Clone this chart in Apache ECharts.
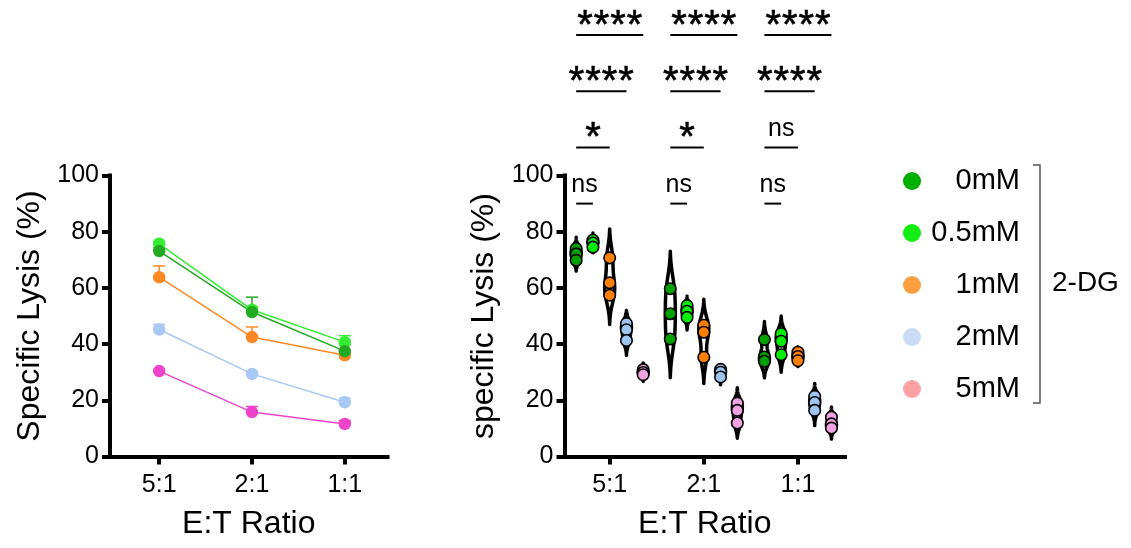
<!DOCTYPE html>
<html><head><meta charset="utf-8">
<script src="https://cdn.jsdelivr.net/npm/echarts@6/dist/echarts.min.js"></script>
<style>html,body{margin:0;padding:0;background:#fff}#c{width:1131px;height:548px}</style>
</head><body><div id="c"></div>
<script>
// ---------- data ----------
const ratios = ['5:1', '2:1', '1:1'];
const doses = ['0mM', '0.5mM', '1mM', '2mM', '5mM'];
const yTicks = [0, 20, 40, 60, 80, 100];

// left panel: mean and upper error (SEM) per E:T ratio
const mean0mM  = [73.1, 51.4, 37.5];
const mean05mM = [75.7, 52.2, 40.7];
const mean1mM  = [63.8, 42.5, 36.0];
const mean2mM  = [45.2, 29.4, 19.3];
const mean5mM  = [30.4, 15.8, 11.6];
const err0mM  = [1.2, 5.3, 2.3];
const err05mM = [0.8, 1.2, 2.3];
const err1mM  = [4.0, 3.6, 1.0];
const err2mM  = [1.8, 0.8, 1.5];
const err5mM  = [0.6, 2.0, 1.2];

// right panel: replicate values per E:T ratio
const rep0mM  = [[74.0, 72.1, 69.8], [59.7, 50.8, 41.8], [41.6, 35.4, 33.9]];
const rep05mM = [[77.0, 76.0, 74.5], [53.7, 51.7, 49.5], [43.7, 41.0, 36.2]];
const rep1mM  = [[70.7, 61.8, 57.4], [46.7, 44.2, 35.3], [37.1, 35.6, 34.1]];
const rep2mM  = [[47.3, 45.1, 41.3], [31.0, 30.0, 28.3], [21.4, 19.2, 16.4]];
const rep5mM  = [[30.9, 29.9, 29.1], [19.0, 16.4, 11.9], [14.0, 11.6, 10.1]];
// violin extents [low, high]
const vio0mM  = [[66.0, 78.0], [28.0, 73.0], [28.0, 48.0]];
const vio05mM = [[72.5, 79.5], [45.0, 57.0], [30.0, 50.0]];
const vio1mM  = [[47.0, 81.0], [26.0, 56.0], [32.0, 39.0]];
const vio2mM  = [[36.0, 52.0], [25.5, 32.5], [11.0, 26.0]];
const vio5mM  = [[26.7, 33.3], [6.5, 24.5], [6.2, 17.6]];

// significance rows: comparison of 0mM vs target dose, per ratio
const sigTargets = ['5mM', '2mM', '1mM', '0.5mM'];
const sigLevels  = [150, 130, 110, 90];
const sigLabels  = [['****', '****', '****'], ['****', '****', '****'], ['*', '*', 'ns'], ['ns', 'ns', 'ns']];

// ---------- styling ----------
const FONT = "'Liberation Sans', Arial, sans-serif";
const leftColors   = ['#22aa22', '#33ee33', '#ff8822', '#a8c8f5', '#ee44cc'];
const rightColors  = ['#00a000', '#00ee00', '#ff8000', '#9ec4f0', '#f0a2e2'];
const legendColors = ['#00b000', '#11ee11', '#ffa040', '#c8dcf6', '#ffa0a4'];
const means = [mean0mM, mean05mM, mean1mM, mean2mM, mean5mM];
const errs  = [err0mM, err05mM, err1mM, err2mM, err5mM];
const reps  = [rep0mM, rep05mM, rep1mM, rep2mM, rep5mM];
const vios  = [vio0mM, vio05mM, vio1mM, vio2mM, vio5mM];
const dOff = 0.178;
const xOf = (r, d) => r + 1 + (d - 2) * dOff;

function xAxis(gi, min, max) {
  return {
    type: 'value', gridIndex: gi, min: min, max: max,
    axisLine: { show: true, onZero: false, lineStyle: { color: '#000', width: 4, cap: 'square' } },
    axisTick: { show: true, customValues: [1, 2, 3], length: 8, lineStyle: { color: '#000', width: 4 } },
    axisLabel: { customValues: [1, 2, 3], formatter: v => ratios[Math.round(v) - 1], fontSize: 25, color: '#000', fontFamily: FONT, margin: 16 },
    splitLine: { show: false },
    name: 'E:T Ratio', nameLocation: 'middle', nameGap: 52,
    nameTextStyle: { fontSize: 32, color: '#000', fontFamily: FONT }
  };
}
function yAxis(gi, name) {
  return {
    type: 'value', gridIndex: gi, min: 0, max: 100, interval: 20,
    axisLine: { show: true, onZero: false, lineStyle: { color: '#000', width: 4, cap: 'square' } },
    axisTick: { show: true, length: 8, lineStyle: { color: '#000', width: 4 } },
    axisLabel: { fontSize: 25, color: '#000', fontFamily: FONT, margin: 11, formatter: v => yTicks.includes(v) ? String(v) : '' },
    splitLine: { show: false },
    name: name, nameLocation: 'middle', nameGap: 64, nameRotate: 90,
    nameTextStyle: { fontSize: 32, color: '#000', fontFamily: FONT }
  };
}

const series = [];
// left: error bars
[4, 3, 2, 1, 0].forEach(d => {
  series.push({
    type: 'custom', xAxisIndex: 0, yAxisIndex: 0, z: 2, silent: true,
    data: ratios.map((_, r) => [r + 1, means[d][r], means[d][r] + errs[d][r]]),
    encode: { x: 0, y: [1, 2] },
    renderItem: (params, api) => {
      const p0 = api.coord([api.value(0), api.value(1)]);
      const p1 = api.coord([api.value(0), api.value(2)]);
      return { type: 'group', children: [
        { type: 'line', shape: { x1: p0[0], y1: p0[1], x2: p1[0], y2: p1[1] }, style: { stroke: leftColors[d], lineWidth: 1.5 } },
        { type: 'line', shape: { x1: p1[0] - 6, y1: p1[1], x2: p1[0] + 6, y2: p1[1] }, style: { stroke: leftColors[d], lineWidth: 1.5 } }
      ] };
    }
  });
});
// left: lines with markers
[4, 3, 2, 1, 0].forEach(d => {
  series.push({
    type: 'line', name: 'L' + doses[d], xAxisIndex: 0, yAxisIndex: 0, z: 3,
    data: ratios.map((_, r) => [r + 1, means[d][r]]),
    symbol: 'circle', symbolSize: 12.5, showSymbol: true,
    lineStyle: { color: leftColors[d], width: 1.5 },
    itemStyle: { color: leftColors[d], borderWidth: 0 },
    emphasis: { disabled: true }, animation: false
  });
});
// right: violins
function kde(pts, h, y) { return pts.reduce((s, p) => s + Math.exp(-0.5 * ((y - p) / h) ** 2), 0); }
doses.forEach((dn, d) => {
  series.push({
    type: 'custom', xAxisIndex: 1, yAxisIndex: 1, z: 2, silent: true,
    data: ratios.map((_, r) => [xOf(r, d), vios[d][r][0], vios[d][r][1]]),
    encode: { x: 0, y: [1, 2] },
    renderItem: (params, api) => {
      const r = params.dataIndex;
      const pts = reps[d][r];
      const lo = api.value(1), hi = api.value(2), xc = api.value(0);
      const h = (hi - lo) / 8, N = 80, maxHalf = 5;
      const kLo = kde(pts, h, lo), kHi = kde(pts, h, hi);
      const ys = [], ws = [];
      let wMax = 0;
      for (let i = 0; i <= N; i++) {
        const y = lo + (hi - lo) * i / N;
        const base = kLo + (kHi - kLo) * i / N;
        const w = Math.max(0, kde(pts, h, y) - base);
        ys.push(y); ws.push(w); wMax = Math.max(wMax, w);
      }
      const left = [], right = [];
      for (let i = 0; i <= N; i++) {
        const p = api.coord([xc, ys[i]]);
        const w = wMax > 0 ? ws[i] / wMax * maxHalf : 0;
        left.push([p[0] - w, p[1]]);
        right.unshift([p[0] + w, p[1]]);
      }
      return { type: 'polygon', shape: { points: left.concat(right) }, style: { fill: '#fff', stroke: '#000', lineWidth: 3.5, lineJoin: 'round' } };
    }
  });
});
// right: replicate points
doses.forEach((dn, d) => {
  const data = [];
  ratios.forEach((_, r) => reps[d][r].forEach(v => data.push([xOf(r, d), v])));
  series.push({
    type: 'scatter', name: dn, xAxisIndex: 1, yAxisIndex: 1, z: 4,
    data: data, symbol: 'circle', symbolSize: 11.5,
    itemStyle: { color: rightColors[d], borderColor: '#000', borderWidth: 1.6, opacity: 1 },
    emphasis: { disabled: true }, animation: false
  });
});
// significance annotations
const sigData = [];
sigTargets.forEach((t, k) => ratios.forEach((_, r) => {
  sigData.push([xOf(r, 0), xOf(r, doses.indexOf(t)), sigLevels[k], k, r]);
}));
series.push({
  type: 'custom', xAxisIndex: 1, yAxisIndex: 1, z: 5, silent: true, clip: false,
  data: sigData, encode: { x: [0, 1], y: 2 },
  renderItem: (params, api) => {
    const a = api.coord([api.value(0), api.value(2)]);
    const b = api.coord([api.value(1), api.value(2)]);
    const lab = sigLabels[api.value(3)][api.value(4)];
    const cx = (a[0] + b[0]) / 2;
    const children = [{ type: 'line', shape: { x1: a[0], y1: a[1], x2: b[0], y2: b[1] }, style: { stroke: '#000', lineWidth: 2 } }];
    if (lab === 'ns') {
      children.push({ type: 'text', style: { text: 'ns', x: cx, y: a[1] - 18, fontSize: 25, fontFamily: FONT, fill: '#000', align: 'center', verticalAlign: 'middle' } });
    } else {
      const n = lab.length, pitch = 16.5;
      for (let i = 0; i < n; i++) {
        children.push({ type: 'text', style: { text: '*', x: cx + (i - (n - 1) / 2) * pitch, y: a[1] - 8, fontSize: 40, fontFamily: FONT, fill: '#000', align: 'center', verticalAlign: 'middle', stroke: '#000', lineWidth: 0.6 } });
      }
    }
    return { type: 'group', children: children };
  }
});

const option = {
  backgroundColor: '#fff',
  animation: false,
  grid: [
    { left: 110, top: 175.5, width: 277.5, height: 281 },
    { left: 564.5, top: 175.5, width: 280.5, height: 281 }
  ],
  xAxis: [xAxis(0, 0.47, 3.46), xAxis(1, 0.52, 3.5)],
  yAxis: [yAxis(0, 'Specific Lysis (%)'), yAxis(1, 'specific Lysis (%)')],
  legend: {
    orient: 'vertical', left: 898, top: 161,
    itemWidth: 18, itemHeight: 18, itemGap: 22, icon: 'circle',
    selectedMode: false,
    data: doses.map((n, d) => ({ name: n, itemStyle: { color: legendColors[d], borderWidth: 0 } })),
    formatter: n => '{a|' + n + '}',
    textStyle: { fontSize: 29, lineHeight: 30, fontFamily: FONT, color: '#000', rich: { a: { width: 94, align: 'right', fontSize: 29, fontFamily: FONT, color: '#000' } } }
  },
  graphic: [
    { type: 'polyline', shape: { points: [[1033, 165], [1040, 165], [1040, 403], [1033, 403]] }, style: { stroke: '#555', lineWidth: 1.5, fill: null } },
    { type: 'text', style: { text: '2-DG', x: 1052, y: 283, fontSize: 28, fontFamily: FONT, fill: '#000', align: 'left', verticalAlign: 'middle' } }
  ],
  series: series
};
const chart = echarts.init(document.getElementById('c'), null, { renderer: 'canvas' });
chart.setOption(option);
</script>
</body></html>
